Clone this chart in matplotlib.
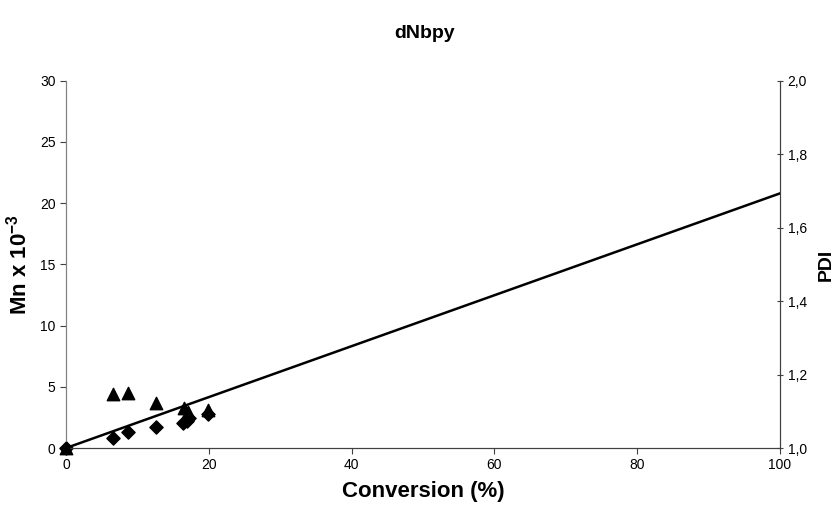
import numpy as np
import matplotlib
matplotlib.use("Agg")
import matplotlib.pyplot as plt
from matplotlib.ticker import FuncFormatter

plt.rcParams['font.family'] = ['Liberation Sans', 'DejaVu Sans']
plt.rcParams['mathtext.default'] = 'regular'

# conversion (%) and Mn x 10^-3 (diamonds)
conv = [0.0, 6.6, 8.7, 12.6, 16.4, 16.9, 17.3, 19.9]
mn = [0.0, 0.80, 1.33, 1.70, 2.05, 2.25, 2.45, 2.80]

# PDI (triangles, right axis)
conv_pdi = [0.0, 6.6, 8.7, 12.6, 16.5, 17.1, 19.9]
pdi = [1.0, 1.147, 1.151, 1.122, 1.108, 1.098, 1.104]

# theoretical Mn line
line_x = [0, 100]
line_y = [0, 20.8]

fig = plt.figure(figsize=(8.35, 5.08), dpi=100)
ax = fig.add_axes([0.079, 0.118, 0.855, 0.723])
ax2 = ax.twinx()

ax.plot(line_x, line_y, color='black', lw=1.8, zorder=2)
ax.scatter(conv, mn, marker='D', s=45, color='black', zorder=3, clip_on=False)
ax2.scatter(conv_pdi, pdi, marker='^', s=80, color='black', zorder=3, clip_on=False)

ax.set_xlim(0, 100)
ax.set_ylim(0, 30)
ax2.set_ylim(1.0, 2.0)
ax.set_xticks(np.arange(0, 101, 20))
ax.set_yticks(np.arange(0, 31, 5))
ax2.set_yticks(np.arange(1.0, 2.01, 0.2))
ax2.yaxis.set_major_formatter(FuncFormatter(lambda v, p: f"{v:.1f}".replace('.', ',')))

for a in (ax, ax2):
    a.spines['top'].set_visible(False)
    a.spines['left'].set_color('#808080')
    a.spines['right'].set_color('#404040')
    a.spines['bottom'].set_color('#404040')
ax.tick_params(axis='both', labelsize=10, length=4, color='#404040')
ax2.tick_params(axis='y', labelsize=10, length=4, direction='inout', color='#404040')

ax.set_xlabel('Conversion (%)', fontsize=16, fontweight='bold', labelpad=6)
ax.set_ylabel(r'Mn x 10$^{-3}$', fontsize=16, fontweight='bold', labelpad=6)
ax2.set_ylabel('PDI', fontsize=14, fontweight='bold', labelpad=8)
fig.text(0.508, 0.935, 'dNbpy', ha='center', va='center', fontsize=14, fontweight='bold')

fig.savefig('out.png', dpi=100)
